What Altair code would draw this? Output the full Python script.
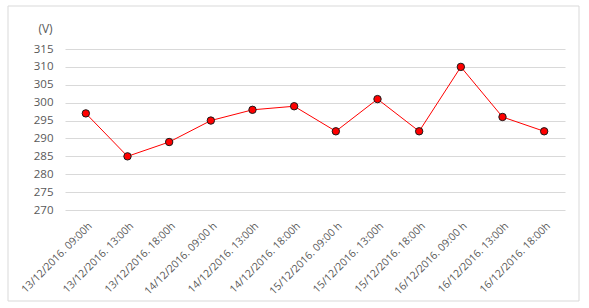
import altair as alt
import pandas as pd

labels = [
    "13/12/2016. 09:00h", "13/12/2016. 13:00h", "13/12/2016. 18:00h",
    "14/12/2016. 09:00 h", "14/12/2016. 13:00h", "14/12/2016. 18:00h",
    "15/12/2016. 09:00 h", "15/12/2016. 13:00h", "15/12/2016. 18:00h",
    "16/12/2016. 09:00 h", "16/12/2016. 13:00h", "16/12/2016. 18:00h",
]
values = [297, 285, 289, 295, 298, 299, 292, 301, 292, 310, 296, 292]

df = pd.DataFrame({"t": labels, "v": values})

FONT = "Open Sans"
GREY = "#595959"

x = alt.X("t:N", sort=labels, title=None,
          scale=alt.Scale(paddingInner=0, paddingOuter=0),
          axis=alt.Axis(labelAngle=-45, labelAlign="right", labelBaseline="middle",
                        labelFontSize=10.5, labelColor=GREY, labelFont=FONT,
                        labelPadding=14, labelOffset=4, ticks=False, domain=False,
                        grid=False))
y = alt.Y("v:Q", title="(V)",
          scale=alt.Scale(domain=[270, 315], nice=False, zero=False),
          axis=alt.Axis(values=list(range(270, 316, 5)), labelFontSize=11.5,
                        labelColor=GREY, labelFont=FONT, labelPadding=12,
                        ticks=False, domain=False, grid=True, gridColor="#d9d9d9",
                        gridWidth=1, titleAngle=0, titleX=-20, titleY=-21,
                        titleAlign="center", titleBaseline="middle",
                        titleFontWeight="normal",
                        titleFontSize=12, titleColor=GREY, titleFont=FONT))

base = alt.Chart(df)
line = base.mark_line(color="#ff0000", strokeWidth=1).encode(x=x, y=y)
pts = base.mark_point(filled=True, fill="#ff0000", stroke="#1a1a1a", strokeWidth=1,
                      size=55, opacity=1).encode(x=x, y=y)
frame = alt.Chart(pd.DataFrame({"a": [0]})).mark_rect(
    fill=None, stroke="#d9d9d9", strokeWidth=1, clip=False
).encode(x=alt.value(-57), x2=alt.value(514), y=alt.value(-43), y2=alt.value(252))

chart = alt.layer(frame, line, pts).properties(
    width=500, height=161,
    autosize=alt.AutoSizeParams(type="none"),
    padding={"left": 65, "top": 49, "right": 24, "bottom": 98},
    background="white",
).configure_view(stroke=None)

chart.save("out.html", embed_options={"renderer": "svg", "actions": False})
